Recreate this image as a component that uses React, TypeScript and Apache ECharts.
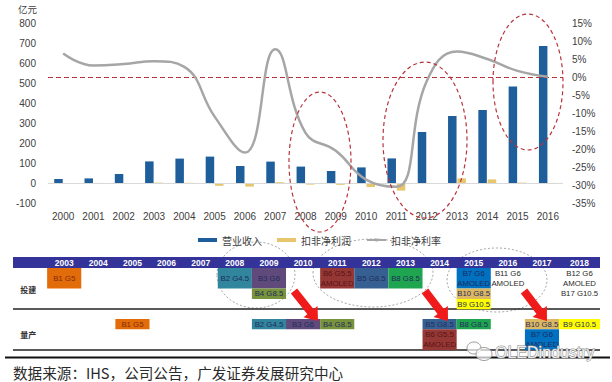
import React, { useEffect, useRef } from "react";
import * as echarts from "echarts";

// ---------- Top chart data ----------
const years = ["2000", "2001", "2002", "2003", "2004", "2005", "2006", "2007", "2008", "2009", "2010", "2011", "2012", "2013", "2014", "2015", "2016"];
const revenue = [20, 23, 45, 108, 122, 132, 85, 107, 82, 60, 78, 123, 255, 335, 365, 482, 685];
const deductedProfit = [0.5, 0.5, 0.5, 2, 1, -14, -18, 4, -8, -9, -20, -38, -2, 23, 18, 2, 0.5];
const deductedMargin = [6.5, 3.2, 3.6, 4.4, 2.8, -11, -21, 7.7, -15.5, -20.5, -28.5, -30.5, -1.2, 7.1, 5, 1.7, 0.1];
const seriesNames = ["营业收入", "扣非净利润", "扣非净利率"];

// ---------- Timeline table data ----------
const tableYears = [2003, 2004, 2005, 2006, 2007, 2008, 2009, 2010, 2011, 2012, 2013, 2014, 2015, 2016, 2017, 2018];
const rowNames = ["投建", "量产"];
const cellYear = [2003, 2008, 2009, 2009, 2011, 2012, 2013, 2015, 2015, 2015, 2016, 2018, 2018, 2018, 2005, 2009, 2010, 2011, 2014, 2014, 2015, 2017, 2017, 2018];
const cellRow = [0, 0, 0, 0, 0, 0, 0, 0, 0, 0, 0, 0, 0, 0, 1, 1, 1, 1, 1, 1, 1, 1, 1, 1];
const cellSlot = [0, 0, 0, 2, 0, 0, 0, 0, 2, 3, 0, 0, 1, 2, 0, 0, 0, 0, 0, 1, 0, 0, 1, 0];
const cellSpan = [2, 2, 2, 1, 2, 2, 2, 2, 1, 1, 2, 1, 1, 1, 1, 1, 1, 1, 1, 2, 1, 1, 2, 1];
const cellText = ["B1 G5", "B2 G4.5", "B3 G6", "B4 G8.5", "B6 G5.5\nAMOLED", "B5 G8.5", "B8 G8.5", "B7 G6\nAMOLED", "B10 G8.5", "B9 G10.5", "B11 G6\nAMOLED", "B12 G6", "AMOLED", "B17 G10.5",
  "B1 G5", "B2 G4.5", "B3 G6", "B4 G8.5", "B5 G8.5", "B6 G5.5\nAMOLED", "B8 G8.5", "B10 G8.5", "B7 G6\nAMOLED", "B9 G10.5"];
const cellFab = ["B1", "B2", "B3", "B4", "B6", "B5", "B8", "B7", "B10", "B9", "", "", "", "", "B1", "B2", "B3", "B4", "B5", "B6", "B8", "B10", "B7", "B9"];

// ---------- Styles ----------
const fabFill: Record<string, string> = {
  B1: "#E36C0A", B2: "#31859C", B3: "#604A7B", B4: "#77933C", B5: "#376092",
  B6: "#953735", B7: "#0070C0", B8: "#1FA550", B9: "#FFFF00", B10: "#DDB862",
};
const fabText: Record<string, string> = { B1: "#7F2B0A", B6: "#5A1414" };
const TX_MIN = 2001.5;
const TX_MAX = 2018.7;
const ROW_BASE = [11, 62];
const SLOT_H = 10.3;
const ROW_LABEL_Y = [32, 77];

function arrowPoints(tx: number, ty: number, hx: number, hy: number, shaftW: number, headW: number, headL: number) {
  const dx = hx - tx, dy = hy - ty;
  const len = Math.hypot(dx, dy);
  const ux = dx / len, uy = dy / len;
  const nx = -uy, ny = ux;
  const bx = hx - ux * headL, by = hy - uy * headL;
  return [
    [tx + nx * shaftW / 2, ty + ny * shaftW / 2],
    [bx + nx * shaftW / 2, by + ny * shaftW / 2],
    [bx + nx * headW / 2, by + ny * headW / 2],
    [hx, hy],
    [bx - nx * headW / 2, by - ny * headW / 2],
    [bx - nx * shaftW / 2, by - ny * shaftW / 2],
    [tx - nx * shaftW / 2, ty - ny * shaftW / 2],
  ];
}

const LABEL_FONT = "Liberation Sans";
const CJK_FONT = "Noto Sans CJK SC";

export default function App() {
  const ref = useRef<HTMLDivElement>(null);
  useEffect(() => {
    const chart = echarts.init(ref.current!, null, { renderer: "svg" });
    const redDash = { fill: "transparent", stroke: "#B8343C", lineWidth: 1.2, lineDash: [4, 3] };
    const grayDot = { fill: "transparent", stroke: "#A8A8A8", lineWidth: 1, lineDash: [2, 2] };
    const arrowStyle = { fill: "#F01A1A" };

    const option: any = {
      animation: false,
      backgroundColor: "#fff",
      grid: [
        { left: 48, right: 49, top: 23, height: 180 },
        { left: 13, right: 12, top: 257, height: 93 },
      ],
      legend: {
        left: 193,
        top: 230,
        itemWidth: 19,
        itemHeight: 4,
        itemGap: 15,
        textStyle: { fontSize: 10, color: "#404040", fontFamily: CJK_FONT },
        data: [
          { name: seriesNames[0], icon: "rect" },
          { name: seriesNames[1], icon: "rect" },
          { name: seriesNames[2] },
        ],
      },
      xAxis: [
        {
          type: "category",
          gridIndex: 0,
          data: years,
          axisLine: { show: false },
          axisTick: { show: false },
          axisLabel: { fontSize: 10, color: "#404040", fontFamily: LABEL_FONT, margin: 8 },
        },
        { type: "value", gridIndex: 1, min: TX_MIN, max: TX_MAX, show: false },
      ],
      yAxis: [
        {
          type: "value",
          gridIndex: 0,
          min: -100,
          max: 800,
          interval: 100,
          axisLine: { show: false },
          axisTick: { show: false },
          splitLine: { show: false },
          axisLabel: { fontSize: 10, color: "#404040", fontFamily: LABEL_FONT, margin: 12 },
        },
        {
          type: "value",
          gridIndex: 0,
          position: "right",
          min: -35,
          max: 15,
          interval: 5,
          axisLine: { show: false },
          axisTick: { show: false },
          splitLine: { show: false },
          axisLabel: { fontSize: 10, color: "#404040", fontFamily: LABEL_FONT, margin: 9, formatter: "{value}%" },
        },
        { type: "value", gridIndex: 1, min: 0, max: 93, inverse: true, show: false },
      ],
      series: [
        {
          name: seriesNames[0],
          type: "bar",
          xAxisIndex: 0,
          yAxisIndex: 0,
          data: revenue,
          barWidth: 8.5,
          barGap: "10%",
          itemStyle: { color: "#1E5E9B" },
          markLine: {
            silent: true,
            symbol: "none",
            label: { show: false },
            lineStyle: { color: "#D9D9D9", type: "solid", width: 1 },
            data: [{ yAxis: 0 }],
          },
        },
        {
          name: seriesNames[1],
          type: "bar",
          xAxisIndex: 0,
          yAxisIndex: 0,
          data: deductedProfit,
          barWidth: 8.5,
          itemStyle: { color: "#E6C56C" },
        },
        {
          name: seriesNames[2],
          type: "line",
          xAxisIndex: 0,
          yAxisIndex: 1,
          data: deductedMargin,
          smooth: 0.45,
          symbol: "none",
          lineStyle: { color: "#A6A6A6", width: 2.5 },
          itemStyle: { color: "#A6A6A6" },
          z: 5,
          markLine: {
            silent: true,
            symbol: "none",
            label: { show: false },
            lineStyle: { color: "#B8343C", type: [5, 3], width: 1.2 },
            data: [{ yAxis: 0 }],
          },
        },
        // table frame: header bar, year labels, row labels, separators
        {
          type: "custom",
          xAxisIndex: 1,
          yAxisIndex: 2,
          clip: false,
          silent: true,
          data: [[TX_MIN, 0]],
          renderItem: (_p: any, api: any) => {
            const a = api.coord([TX_MIN, 0]);
            const b = api.coord([TX_MAX, 11]);
            const children: any[] = [
              { type: "rect", shape: { x: a[0], y: a[1], width: b[0] - a[0], height: b[1] - a[1] }, style: { fill: "#33339A" } },
            ];
            tableYears.forEach((yr, i) => {
              const cx = i === tableYears.length - 1 ? (yr - 0.5 + TX_MAX) / 2 : yr;
              const p = api.coord([cx, 5.7]);
              children.push({
                type: "text",
                style: { text: String(yr), x: p[0], y: p[1], align: "center", verticalAlign: "middle", fill: "#fff", fontSize: 8.5, fontWeight: "bold", fontFamily: LABEL_FONT },
              });
            });
            [52, 93].forEach((yy) => {
              const l = api.coord([TX_MIN, yy]);
              const r = api.coord([TX_MAX, yy]);
              children.push({ type: "line", shape: { x1: l[0], y1: l[1], x2: r[0], y2: r[1] }, style: { stroke: "#222", lineWidth: 1.3 } });
            });
            rowNames.forEach((nm, i) => {
              const p = api.coord([2001.95, ROW_LABEL_Y[i]]);
              children.push({
                type: "text",
                style: { text: nm, x: p[0], y: p[1], align: "center", verticalAlign: "middle", fill: "#333", fontSize: 8, fontWeight: "bold", fontFamily: CJK_FONT },
              });
            });
            return { type: "group", children };
          },
        },
        // table cells
        {
          type: "custom",
          xAxisIndex: 1,
          yAxisIndex: 2,
          clip: false,
          silent: true,
          z: 3,
          data: cellYear.map((yr, i) => [yr, ROW_BASE[cellRow[i]] + cellSlot[i] * SLOT_H]),
          renderItem: (params: any, api: any) => {
            const i = params.dataIndex;
            const yr = cellYear[i];
            const x0 = yr - 0.5;
            const x1 = yr === tableYears[tableYears.length - 1] ? TX_MAX : yr + 0.5;
            const top = ROW_BASE[cellRow[i]] + cellSlot[i] * SLOT_H;
            const bottom = top + cellSpan[i] * SLOT_H;
            const p0 = api.coord([x0, top]);
            const p1 = api.coord([x1, bottom]);
            const fab = cellFab[i];
            const children: any[] = [];
            if (fab) {
              children.push({
                type: "rect",
                shape: { x: p0[0], y: p0[1], width: p1[0] - p0[0], height: p1[1] - p0[1] },
                style: { fill: fabFill[fab] },
              });
            }
            children.push({
              type: "text",
              style: {
                text: cellText[i],
                x: (p0[0] + p1[0]) / 2,
                y: (p0[1] + p1[1]) / 2,
                align: "center",
                verticalAlign: "middle",
                lineHeight: 10,
                fontSize: 7.8,
                fontFamily: LABEL_FONT,
                fill: fab ? (fabText[fab] || "#1F2D5C") : "#2A2A2A",
              },
            });
            return { type: "group", children };
          },
        },
      ],
      graphic: [
        { type: "text", x: 18, y: 9, style: { text: "亿元", fontSize: 9.5, fill: "#404040", fontFamily: CJK_FONT, verticalAlign: "middle" } },
        // red dashed emphasis ellipses on the top chart
        { type: "ellipse", z: 10, shape: { cx: 320, cy: 162, rx: 31, ry: 70 }, style: redDash },
        { type: "ellipse", z: 10, shape: { cx: 425, cy: 140, rx: 42, ry: 78 }, style: redDash },
        { type: "ellipse", z: 10, shape: { cx: 528, cy: 82, rx: 35, ry: 68 }, style: redDash },
        // gray dotted ellipses on the table
        { type: "ellipse", z: 0, shape: { cx: 256, cy: 275, rx: 39, ry: 33 }, style: grayDot },
        { type: "ellipse", z: 0, shape: { cx: 373, cy: 273, rx: 60, ry: 34 }, style: grayDot },
        { type: "ellipse", z: 0, shape: { cx: 497, cy: 280, rx: 50, ry: 32 }, style: grayDot },
        // red arrows
        { type: "polygon", z: 100, shape: { points: arrowPoints(294, 291, 318, 321, 8, 18, 12) }, style: arrowStyle },
        { type: "polygon", z: 100, shape: { points: arrowPoints(425, 291, 448, 321, 8, 18, 12) }, style: arrowStyle },
        { type: "polygon", z: 100, shape: { points: arrowPoints(524, 291, 547, 321, 8, 18, 12) }, style: arrowStyle },
        // bottom rule & source
        { type: "line", z: 5, shape: { x1: 5, y1: 357.5, x2: 610, y2: 357.5 }, style: { stroke: "#111", lineWidth: 2 } },
        { type: "text", x: 13, y: 372, style: { text: "数据来源：IHS，公司公告，广发证券发展研究中心", fontSize: 14.6, fill: "#2A2A2A", fontFamily: CJK_FONT, verticalAlign: "middle" } },
        // watermark
        { type: "ellipse", z: 101, shape: { cx: 474, cy: 348, rx: 7, ry: 6 }, style: { fill: "rgba(255,255,255,0.7)", stroke: "#9A9A9A", lineWidth: 1 } },
        { type: "ellipse", z: 101, shape: { cx: 484, cy: 354, rx: 8, ry: 6.5 }, style: { fill: "rgba(255,255,255,0.7)", stroke: "#9A9A9A", lineWidth: 1 } },
        { type: "text", z: 101, x: 495, y: 352, style: { text: "OLEDindustry", fontSize: 16, fill: "rgba(255,255,255,0.85)", stroke: "#8A8A8A", lineWidth: 1, fontFamily: LABEL_FONT, verticalAlign: "middle" } },
      ],
    };
    chart.setOption(option);
    return () => chart.dispose();
  }, []);
  return <div ref={ref} style={{ position: "fixed", left: 0, top: 0, width: 612, height: 382, background: "#fff" }} />;
}
